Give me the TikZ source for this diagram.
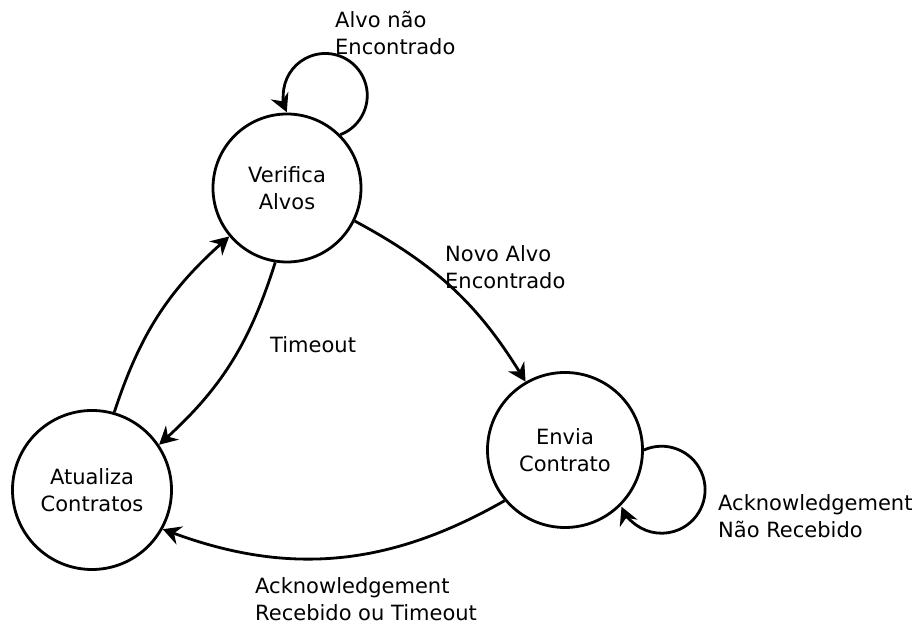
\documentclass[tikz,border=0pt]{standalone}
\usepackage{fontspec}
\setmainfont{DejaVu Sans}
\usetikzlibrary{arrows.meta}
\begin{document}
\begin{tikzpicture}[x=1pt,y=1pt,
  state/.style={circle,draw,line width=2.8pt,inner sep=0pt,align=center,
    font=\fontsize{21}{27}\selectfont},
  lbl/.style={anchor=north west,inner sep=0pt,align=left,
    font=\fontsize{21}{27}\selectfont},
  tip/.tip={Stealth[length=18pt 0,width=19pt 0,inset=6pt 0]},
  trans/.style={line width=2.8pt,-tip}]
\useasboundingbox (0,0) rectangle (922,626);

% states
\node[state,minimum size=148pt] (va) at (287,438) {Verifica\\Alvos};
\node[state,minimum size=155pt] (ec) at (565,176) {Envia\\Contrato};
\node[state,minimum size=159pt] (ac) at (92,136) {Atualiza\\Contratos};

% self loops
\draw[trans] (va.45) arc[start angle=-69,end angle=203.5,radius=42];
\draw[trans] (ec.0) arc[start angle=114,end angle=-157,radius=43.5];

% transitions between states
\draw[trans] (va.-26) to[bend left=15] (ec.120);
\draw[trans] (ac.74) to[bend left=15] (va.220);
\draw[trans] (va.261) to[bend left=15] (ac.34);
\draw[trans] (ec.220) to[bend left=25] (ac.-29);

% transition labels
\node[lbl] (l1) at (335,615) {Alvo não\\Encontrado};
\node[lbl] (l2) at (445,381) {Novo Alvo\\Encontrado};
\node[lbl] (l3) at (270,290) {Timeout};
\node[lbl] (l4) at (718,132) {Acknowledgement\\Não Recebido};
\node[lbl] (l5) at (255,49) {Acknowledgement\\Recebido ou Timeout};
\end{tikzpicture}
\end{document}
